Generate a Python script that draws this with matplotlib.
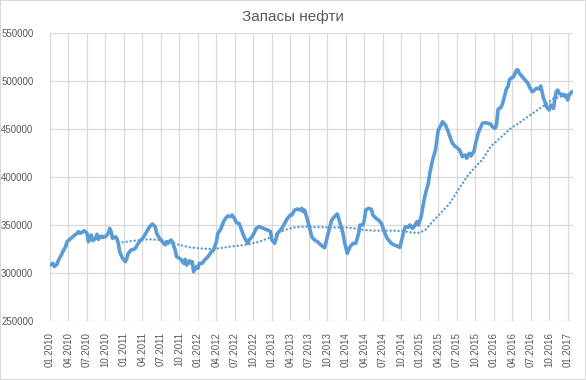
import matplotlib
matplotlib.use("Agg")
import matplotlib.pyplot as plt
import numpy as np

# ---- data (week index from first observation, value) ----
weeks = [0, 2, 3, 5, 6, 8, 9, 11, 12, 14, 16, 19, 20, 21, 22, 24, 26, 27, 28, 29,
         30, 32, 33, 34, 35, 36, 37, 39, 40, 41, 42, 43, 44, 46, 47, 48, 49, 51, 53, 54,
         55, 57, 59, 60, 62, 64, 66, 68, 70, 72, 74, 75, 77, 79, 81, 82, 83, 85, 86, 88,
         89, 91, 92, 94, 95, 96, 98, 99, 100, 101, 103, 104, 105, 107, 109, 110, 112, 113, 115, 117,
         118, 120, 122, 124, 125, 127, 128, 130, 131, 133, 136, 137, 139, 140, 142, 144, 145, 147, 149, 151,
         153, 155, 156, 158, 159, 160, 163, 165, 167, 169, 170, 172, 174, 176, 177, 178, 179, 180, 182, 184,
         186, 188, 190, 191, 193, 194, 196, 198, 200, 202, 204, 206, 207, 209, 210, 211, 213, 215, 217, 218,
         220, 221, 222, 224, 226, 227, 228, 230, 231, 233, 235, 237, 239, 240, 242, 244, 246, 247, 249, 250,
         252, 253, 255, 256, 258, 259, 261, 262, 264, 266, 267, 268, 269, 271, 272, 273, 275, 276, 278, 279,
         280, 282, 283, 285, 286, 288, 289, 290, 292, 293, 294, 295, 296, 298, 299, 301, 303, 304, 306, 308,
         310, 311, 313, 314, 315, 317, 318, 320, 321, 322, 323, 324, 326, 327, 328, 329, 330, 332, 334, 335,
         336, 337, 339, 340, 342, 344, 345, 347, 348, 349, 350, 351, 352, 354, 355, 356, 357, 358, 360, 361,
         362, 363, 364, 365, 367]
stocks = [308300, 310100, 306600, 309400, 313500, 318800, 322200, 327400, 332600, 335100,
          337800, 341300, 343000, 341300, 342000, 344100, 341300, 332600, 337800, 339600,
          333700, 336100, 340300, 335100, 337100, 338500, 337100, 337800, 339600, 341300,
          346500, 343000, 336100, 337800, 336100, 330900, 322200, 315300, 311800, 315300,
          320500, 324000, 324700, 325700, 330900, 334400, 337800, 343000, 348200, 351000,
          348200, 341300, 336100, 332600, 329200, 332600, 330900, 334400, 332600, 324000,
          317000, 315300, 314200, 310100, 314200, 308300, 312800, 310100, 311800, 301400,
          306600, 304900, 310100, 310100, 314200, 315300, 318800, 321200, 324000, 332600,
          341300, 345500, 353500, 358000, 359400, 358700, 360400, 356000, 352500, 351500,
          339600, 336100, 330900, 334400, 337800, 343100, 346500, 348300, 347200, 345800,
          344800, 343100, 334400, 330900, 336100, 341300, 346500, 351800, 357000, 360400,
          360400, 365600, 366700, 365600, 367400, 363900, 365600, 360400, 350000, 337800,
          334400, 332600, 329900, 328500, 326400, 332000, 344000, 355000, 358700, 361500,
          351700, 341300, 332600, 320500, 324000, 327400, 330900, 330900, 341300, 350000,
          350000, 355200, 365600, 367400, 366300, 360400, 358700, 355900, 355200, 351700,
          343100, 336100, 332600, 330900, 329200, 328100, 326700, 332600, 344800, 348300,
          347600, 350000, 346500, 348300, 353500, 350000, 358700, 368000, 383000, 393400,
          403800, 410800, 417700, 428100, 438500, 448900, 454200, 457600, 454200, 450700,
          447200, 438500, 435100, 431600, 430900, 428100, 424700, 421200, 422900, 419500,
          422900, 424700, 421900, 426400, 433300, 445500, 452400, 455900, 456600, 455900,
          454900, 452400, 450700, 455000, 470500, 472500, 475500, 486500, 492400, 494100,
          501000, 502800, 504500, 508000, 511500, 511500, 508000, 504500, 501000, 499300,
          497600, 494100, 488900, 489600, 492400, 491700, 494800, 481900, 478500, 473300,
          471500, 469800, 475000, 471500, 481900, 488900, 490600, 487200, 485400, 486100,
          483700, 485400, 480200, 485400, 488900]

# moving-average trendline
ma_weeks = [51, 56, 63, 70, 77, 84, 91, 98, 105, 112, 119, 126, 133, 140, 147, 154, 158,
            165, 172, 179, 186, 193, 200, 207, 214, 221, 228, 235, 242, 249, 255, 260, 264,
            270, 275, 281, 287, 294, 300, 304, 310, 316, 324, 330, 336, 342, 348, 354, 360, 367]
ma_values = [332000, 333000, 334400, 335100, 334400, 332600, 329200, 326800, 325700, 325000,
             325700, 327400, 328500, 330000, 332500, 336500, 339600, 344800, 347600, 348300,
             347900, 347600, 347400, 347600, 346500, 344800, 344100, 344100, 344100, 343500,
             342000, 342000, 345000, 355200, 363000, 372600, 386500, 402100, 412000, 418000,
             432000, 440000, 450700, 456500, 462900, 469000, 475000, 481500, 484000, 486500]

tick_labels = ['01.2010', '04.2010', '07.2010', '10.2010',
               '01.2011', '04.2011', '07.2011', '10.2011',
               '01.2012', '04.2012', '07.2012', '10.2012',
               '01.2013', '04.2013', '07.2013', '10.2013',
               '01.2014', '04.2014', '07.2014', '10.2014',
               '01.2015', '04.2015', '07.2015', '10.2015',
               '01.2016', '04.2016', '07.2016', '10.2016',
               '01.2017']
title = 'Запасы нефти'

# ---- styling ----
plt.rcParams['font.family'] = ['Liberation Sans', 'DejaVu Sans']
blue = '#5B9BD5'
grid_c = '#D9D9D9'
text_c = '#595959'

fig = plt.figure(figsize=(5.86, 3.80), dpi=100)
fig.patch.set_facecolor('white')
fig.patch.set_edgecolor('#D9D9D9')
fig.patch.set_linewidth(1.2)
ax = fig.add_axes([50/586, 1-321/380, (572.7-50)/586, (321-33)/380])

ax.plot(weeks, stocks, color=blue, lw=2.6, solid_joinstyle='round',
        solid_capstyle='round', zorder=3)
ax.plot(ma_weeks, ma_values, color=blue, lw=1.7, linestyle=(0, (0.1, 1.6)),
        dash_capstyle='round', zorder=4)

ax.set_xlim(0, 367.5)
ax.set_ylim(250000, 550000)
ax.set_yticks(np.arange(250000, 550001, 50000))
ax.set_yticklabels([str(v) for v in range(250000, 550001, 50000)])
ax.set_xticks(np.arange(0, 13 * len(tick_labels), 13))
ax.set_xticklabels(tick_labels, rotation=90)

ax.grid(True, color=grid_c, lw=0.9, zorder=0)
ax.set_axisbelow(True)
for s in ax.spines.values():
    s.set_visible(False)
ax.tick_params(axis='both', length=0, labelsize=7, labelcolor=text_c)
ax.tick_params(axis='y', pad=12)
ax.tick_params(axis='x', pad=8)

fig.text(0.5, 1 - 17 / 380, title, ha='center', va='center',
         fontsize=11, color=text_c)

fig.savefig('out.png', dpi=100, facecolor=fig.get_facecolor(),
            edgecolor=fig.get_edgecolor())
